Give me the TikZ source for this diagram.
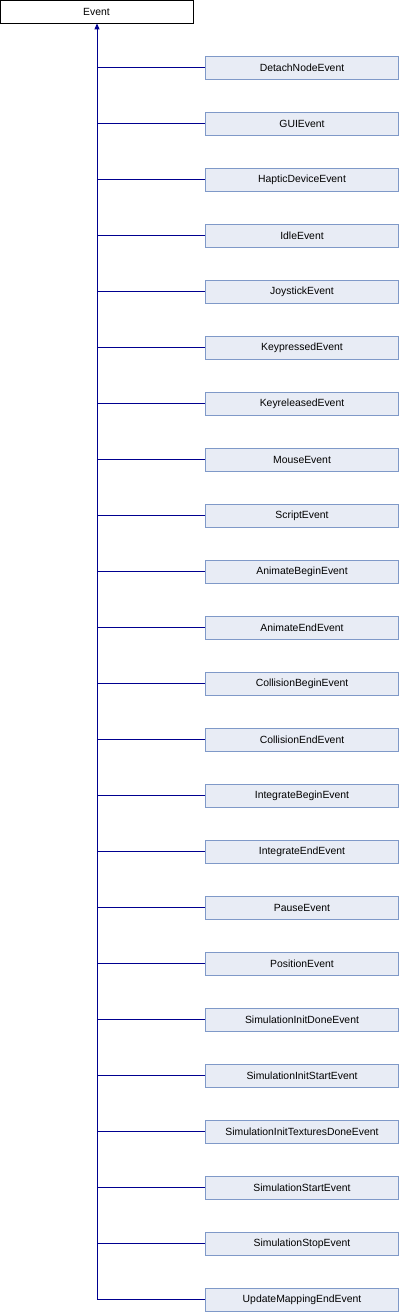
\documentclass[tikz,border=0pt]{standalone}
\usepackage{fontspec}
\setmainfont{Liberation Sans}
\usetikzlibrary{arrows.meta}
\definecolor{boxfill}{HTML}{E8ECF5}
\definecolor{boxline}{HTML}{7F99C8}
\definecolor{edgec}{HTML}{000090}
\begin{document}
\begin{tikzpicture}[x=1pt,y=-1pt,
  base/.style={font=\fontsize{10.4}{12}\selectfont},
  parentbox/.style={base,draw=black,fill=white,line width=0.8pt,minimum width=193pt,minimum height=23pt,inner sep=0pt},
  childbox/.style={base,draw=boxline,fill=boxfill,line width=0.8pt,minimum width=193pt,minimum height=23pt,inner sep=0pt},
  edge/.style={draw=edgec,line width=0.9pt}]
\useasboundingbox (0,0) rectangle (400,1312);
\node[parentbox] (event) at (96.5,11.5) {Event};
\foreach \name [count=\i from 0] in {DetachNodeEvent,GUIEvent,HapticDeviceEvent,IdleEvent,JoystickEvent,KeypressedEvent,KeyreleasedEvent,MouseEvent,ScriptEvent,AnimateBeginEvent,AnimateEndEvent,CollisionBeginEvent,CollisionEndEvent,IntegrateBeginEvent,IntegrateEndEvent,PauseEvent,PositionEvent,SimulationInitDoneEvent,SimulationInitStartEvent,SimulationInitTexturesDoneEvent,SimulationStartEvent,SimulationStopEvent,UpdateMappingEndEvent}{
  \node[childbox] (c\i) at (302,{67.5+56*\i}) {\name};
  \coordinate (j\i) at (97,{67.5+56*\i});
  \draw[edge] (j\i) -- (c\i.west);
}
\draw[edge,-{Triangle[width=5pt,length=6pt]}] (j22) -- (event.south -| j22);
\end{tikzpicture}
\end{document}
